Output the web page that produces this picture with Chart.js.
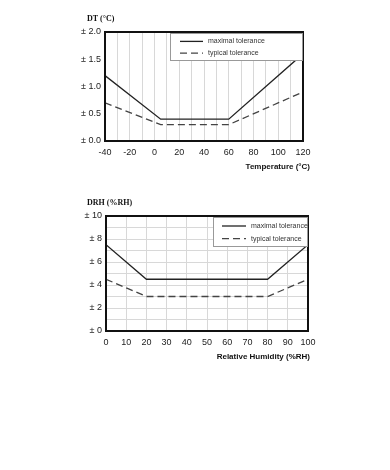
<!DOCTYPE html>
<html>
<head>
<meta charset="utf-8">
<script src="https://cdn.jsdelivr.net/npm/chart.js@4"></script>
<style>
  body { margin: 0; background: #fff; }
  .box { position: absolute; left: 0; width: 390px; height: 190px; }
</style>
</head>
<body>
<div class="box" style="top:0"><canvas id="grafT"></canvas></div>
<div class="box" style="top:190px"><canvas id="grafRH"></canvas></div>
<script>
// dados do gráfico de temperatura
const tempX = [-40, 5, 60, 120];
const tempMax = [1.2, 0.4, 0.4, 1.6];
const tempTyp = [0.7, 0.3, 0.3, 0.9];

// dados do gráfico de umidade
const rhX = [0, 20, 80, 100];
const rhMax = [7.5, 4.5, 4.5, 7.5];
const rhTyp = [4.5, 3, 3, 4.5];

const nomes = ['maximal tolerance', 'typical tolerance'];

const fonteTick = '"Liberation Sans Narrow", "Arial Narrow", Arial, sans-serif';

// junta x e y em pontos
function pontos(xs, ys) {
  return xs.map((x, i) => ({ x: x, y: ys[i] }));
}

// moldura preta, legenda e títulos
const extras = {
  id: 'extras',
  afterDraw(chart, args, opts) {
    const ctx = chart.ctx;
    const a = chart.chartArea;
    ctx.save();
    // moldura
    ctx.strokeStyle = '#111';
    ctx.lineWidth = 2;
    ctx.strokeRect(a.left, a.top, a.right - a.left, a.bottom - a.top);

    // legenda
    const lx = a.right - opts.legW, ly = a.top + 1;
    ctx.fillStyle = '#fff';
    ctx.fillRect(lx, ly, opts.legW, opts.legH);
    ctx.strokeStyle = '#999';
    ctx.lineWidth = 1;
    ctx.strokeRect(lx + 0.5, ly + 0.5, opts.legW - 1, opts.legH - 1);
    ctx.font = '7px ' + fonteTick;
    ctx.textBaseline = 'middle';
    chart.data.datasets.forEach((ds, i) => {
      const y = ly + opts.legH * (i === 0 ? 0.3 : 0.72);
      ctx.beginPath();
      ctx.strokeStyle = ds.borderColor;
      ctx.lineWidth = 1.3;
      ctx.setLineDash(ds.borderDash || []);
      ctx.moveTo(lx + opts.l0, y);
      ctx.lineTo(lx + opts.l0 + opts.lLen, y);
      ctx.stroke();
      ctx.setLineDash([]);
      ctx.fillStyle = '#333';
      ctx.textAlign = 'left';
      ctx.fillText(ds.label, lx + opts.l0 + opts.lLen + 5, y);
    });

    // título do eixo y
    ctx.fillStyle = '#111';
    ctx.font = 'bold 8px "Liberation Serif", "Times New Roman", serif';
    ctx.textAlign = 'left';
    ctx.textBaseline = 'middle';
    ctx.fillText(opts.yTitulo, 87, a.top - opts.yTitOff);

    // título do eixo x
    ctx.font = 'bold 8px ' + fonteTick;
    ctx.textAlign = 'right';
    ctx.fillText(opts.xTitulo, 310, a.bottom + 26);
    ctx.restore();
  }
};

function montarGrafico(id, xs, maxV, typV, cfg) {
  const ctx = document.getElementById(id).getContext('2d');
  new Chart(ctx, {
    type: 'line',
    data: {
      datasets: [
        { label: nomes[0], data: pontos(xs, maxV), borderColor: '#222', borderWidth: 1.3,
          pointRadius: 0, tension: 0 },
        { label: nomes[1], data: pontos(xs, typV), borderColor: '#444', borderWidth: 1.3,
          borderDash: [7, 4], pointRadius: 0, tension: 0 }
      ]
    },
    options: {
      responsive: false,
      animation: false,
      events: [],
      layout: { padding: cfg.padding },
      plugins: { legend: { display: false }, tooltip: { enabled: false }, extras: cfg.extras },
      scales: {
        x: {
          type: 'linear', min: cfg.xMin, max: cfg.xMax,
          afterFit: s => { s.height = 49; },
          border: { display: false },
          grid: { color: '#d8d8d8', lineWidth: 1, drawTicks: false },
          ticks: {
            stepSize: cfg.xStep, autoSkip: false, maxRotation: 0, padding: 6,
            color: '#222', font: { family: fonteTick, size: 9 },
            callback: cfg.xLabel
          }
        },
        y: {
          min: cfg.yMin, max: cfg.yMax,
          afterFit: s => { s.width = 30; },
          border: { display: false },
          grid: { display: cfg.yGrid, color: '#d8d8d8', lineWidth: 1, drawTicks: false },
          ticks: {
            stepSize: cfg.yStep, autoSkip: false, padding: 4,
            color: '#222', font: { family: fonteTick, size: 9 },
            callback: cfg.yLabel
          }
        }
      }
    },
    plugins: [extras]
  });
}

document.getElementById('grafT').width = 390;
document.getElementById('grafT').height = 190;
document.getElementById('grafRH').width = 390;
document.getElementById('grafRH').height = 190;

montarGrafico('grafT', tempX, tempMax, tempTyp, {
  padding: { left: 75, right: 87, top: 32, bottom: 0 },
  xMin: -40, xMax: 120, xStep: 10,
  xLabel: v => (v % 20 === 0 ? String(v) : ''),
  yMin: 0, yMax: 2, yStep: 0.5, yGrid: false,
  yLabel: v => '± ' + v.toFixed(1),
  extras: { legW: 133, legH: 28, l0: 10, lLen: 23, yTitulo: 'DT (°C)', yTitOff: 13,
            xTitulo: 'Temperature (°C)' }
});

montarGrafico('grafRH', rhX, rhMax, rhTyp, {
  padding: { left: 76, right: 82, top: 26, bottom: 0 },
  xMin: 0, xMax: 100, xStep: 10,
  xLabel: v => String(v),
  yMin: 0, yMax: 10, yStep: 1, yGrid: true,
  yLabel: v => (v % 2 === 0 ? '± ' + v : ''),
  extras: { legW: 95, legH: 30, l0: 9, lLen: 24, yTitulo: 'DRH (%RH)', yTitOff: 13,
            xTitulo: 'Relative Humidity (%RH)' }
});
</script>
</body>
</html>
